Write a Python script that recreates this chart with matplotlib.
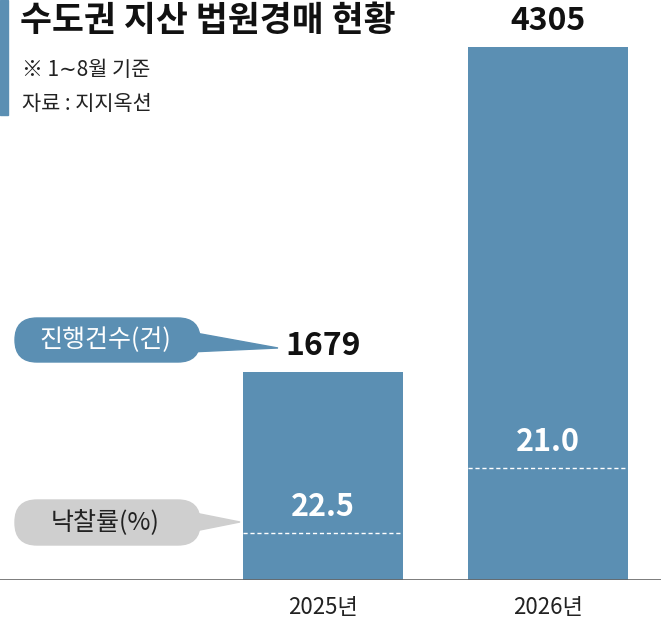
import matplotlib
matplotlib.use("Agg")
import matplotlib.pyplot as plt
from matplotlib.patches import FancyBboxPatch, Polygon, Rectangle

plt.rcParams['font.family'] = ['Noto Sans CJK KR', 'DejaVu Sans']

years = ['2025년', '2026년']
counts = [1679, 4305]
rates = [22.5, 21.0]
blue = '#5b8fb3'

fig = plt.figure(figsize=(6.61, 6.32), dpi=100)
W, H = 661, 632
ax = fig.add_axes([0, 52/H, 1, 580/H])
ymax = 580*4305/533
ax.set_ylim(0, ymax)
ax.set_xlim(-323/225, (661-323)/225)
ax.axis('off')
x = [0, 1]
ax.bar(x, counts, width=160/225, color=blue, zorder=2)
for xi, c, r in zip(x, counts, rates):
    h = c*r/100
    ax.plot([xi-0.355, xi+0.355], [h, h], color='white', lw=1, ls=(0, (3, 2)), zorder=3)
    ax.text(xi, h + 26*ymax/580, f'{r:.1f}', ha='center', va='center', color='white',
            fontsize=22, fontweight='bold', zorder=4)
    ax.text(xi, c + 26*ymax/580, f'{c}', ha='center', va='center', color='#111',
            fontsize=23, fontweight='bold')
ax.axhline(0, color='#666', lw=1.2)

ov = fig.add_axes([0, 0, 1, 1]); ov.set_xlim(0, W); ov.set_ylim(H, 0); ov.axis('off')
ov.add_patch(Rectangle((0, 0), 8, 115, color=blue))
ov.text(20, 20, '수도권 지산 법원경매 현황', fontsize=25, fontweight='bold', va='center', color='#111')
ov.text(22, 70, '※ 1∼8월 기준', fontsize=15, va='center', color='#222')
ov.text(22, 104, '자료 : 지지옥션', fontsize=15, va='center', color='#222')
for xi, y in zip(x, years):
    ov.text(323 + 225*xi, 607, y, fontsize=16, ha='center', va='center', color='#222')
ov.add_patch(FancyBboxPatch((15, 318), 185, 44, boxstyle='round,pad=0,rounding_size=22', color=blue))
ov.add_patch(Polygon([(190, 332), (278, 348), (190, 352)], color=blue))
ov.text(105, 340, '진행건수(건)', fontsize=18, fontweight='medium', ha='center', va='center', color='white')
ov.add_patch(FancyBboxPatch((15, 500), 185, 45, boxstyle='round,pad=0,rounding_size=22', color='#cfcfcf'))
ov.add_patch(Polygon([(190, 512), (240, 522), (190, 532)], color='#cfcfcf'))
ov.text(105, 522, '낙찰률(%)', fontsize=18, fontweight='medium', ha='center', va='center', color='#222')
fig.savefig('out.png', dpi=100)
